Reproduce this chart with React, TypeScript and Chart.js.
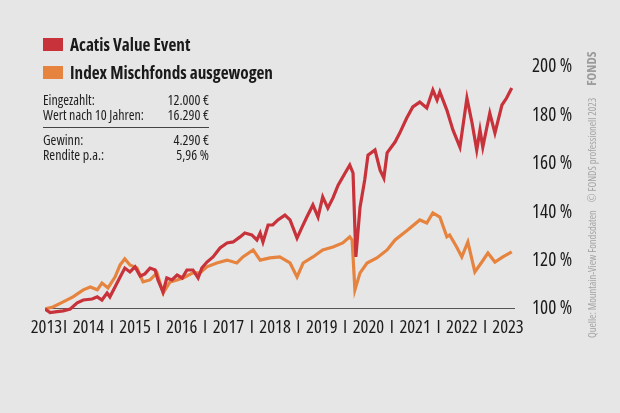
import React, { useEffect, useRef } from "react";
import { Chart, registerables } from "chart.js";

Chart.register(...registerables);

// Decimal-year positions and values (% of initial investment)
const acatisX = [
  2013.57, 2013.68, 2013.83, 2013.96, 2014.11, 2014.26, 2014.39, 2014.58, 2014.69, 2014.79,
  2014.9, 2014.96, 2015.07, 2015.18, 2015.28, 2015.39, 2015.5, 2015.61, 2015.71, 2015.82,
  2015.93, 2015.99, 2016.1, 2016.18, 2016.29, 2016.4, 2016.51, 2016.61, 2016.74, 2016.85,
  2016.93, 2017.04, 2017.17, 2017.32, 2017.47, 2017.6, 2017.75, 2017.85, 2018.0, 2018.11,
  2018.18, 2018.24, 2018.35, 2018.45, 2018.56, 2018.71, 2018.82, 2018.97, 2019.07, 2019.18,
  2019.31, 2019.42, 2019.52, 2019.63, 2019.74, 2019.85, 2020.0, 2020.1, 2020.17, 2020.23,
  2020.32, 2020.42, 2020.49, 2020.64, 2020.75, 2020.83, 2020.9, 2021.07, 2021.17, 2021.32,
  2021.45, 2021.6, 2021.75, 2021.88, 2021.97, 2022.03, 2022.18, 2022.31, 2022.46, 2022.61,
  2022.72, 2022.82, 2022.89, 2022.95, 2023.1, 2023.21, 2023.36, 2023.46, 2023.57,
];
const acatisValues = [
  100.0, 98.5, 98.9, 99.2, 100.0, 102.5, 103.7, 104.1, 105.0, 103.7,
  106.6, 105.0, 109.1, 113.2, 116.9, 115.3, 117.4, 113.6, 114.5, 116.9,
  116.1, 112.0, 107.0, 112.8, 112.0, 114.0, 112.8, 116.1, 116.1, 112.8,
  116.9, 119.4, 121.5, 125.2, 127.3, 127.7, 129.8, 131.4, 130.6, 128.5,
  131.4, 127.7, 134.7, 134.7, 136.8, 138.8, 136.8, 129.3, 133.5, 138.0,
  143.0, 138.0, 146.3, 141.7, 145.9, 151.2, 156.2, 159.5, 156.2, 121.5,
  142.1, 153.3, 163.6, 165.7, 157.4, 154.1, 164.5, 169.0, 172.7, 178.9,
  183.5, 185.5, 183.1, 190.5, 186.4, 189.7, 182.2, 174.0, 166.9, 187.2,
  176.9, 165.7, 174.0, 166.9, 181.0, 172.7, 184.3, 187.2, 191.3,
];

const indexX = [
  2013.57, 2013.74, 2013.96, 2014.17, 2014.39, 2014.54, 2014.69, 2014.79, 2014.92, 2015.07,
  2015.18, 2015.28, 2015.39, 2015.54, 2015.67, 2015.82, 2015.97, 2016.1, 2016.25, 2016.4,
  2016.53, 2016.74, 2016.89, 2017.04, 2017.25, 2017.47, 2017.68, 2017.81, 2018.03, 2018.18,
  2018.39, 2018.6, 2018.82, 2018.97, 2019.1, 2019.31, 2019.52, 2019.74, 2019.95, 2020.1,
  2020.15, 2020.21, 2020.32, 2020.47, 2020.68, 2020.9, 2021.07, 2021.34, 2021.6, 2021.75,
  2021.88, 2022.03, 2022.18, 2022.24, 2022.39, 2022.5, 2022.63, 2022.78, 2022.93, 2023.06,
  2023.21, 2023.38, 2023.57,
];
const indexValues = [
  100.0, 100.8, 102.9, 105.0, 107.9, 109.1, 107.9, 110.7, 108.7, 113.2,
  118.2, 120.7, 118.2, 116.9, 111.2, 112.0, 114.9, 106.6, 111.2, 112.0,
  112.8, 114.9, 114.9, 117.4, 119.0, 120.2, 119.0, 121.5, 124.4, 120.2,
  121.1, 121.5, 119.0, 113.2, 119.0, 121.5, 124.4, 125.6, 127.3, 129.8,
  128.5, 107.9, 114.9, 119.0, 121.1, 124.4, 128.5, 132.6, 136.8, 135.5,
  139.7, 138.0, 129.8, 130.6, 125.6, 121.5, 127.7, 115.3, 119.4, 123.1,
  119.4, 121.5, 123.6,
];

const seriesNames = ["Acatis Value Event", "Index Mischfonds ausgewogen"];

// x-axis labels: year labels and separators
const yearLabels = ["2013", "2014", "2015", "2016", "2017", "2018", "2019", "2020", "2021", "2022", "2023"];
const yearLabelPos = [2013.6, 2014.5, 2015.5, 2016.5, 2017.5, 2018.5, 2019.5, 2020.5, 2021.5, 2022.5, 2023.49];
const separatorPos = [2014, 2015, 2016, 2017, 2018, 2019, 2020, 2021, 2022, 2023];

const yTicks = [100, 120, 140, 160, 180, 200];

const tableRows = [
  ["Eingezahlt:", "12.000 €"],
  ["Wert nach 10 Jahren:", "16.290 €"],
  ["Gewinn:", "4.290 €"],
  ["Rendite p.a.:", "5,96 %"],
];

const RED = "#c8323a";
const ORANGE = "#e6843f";
const FONT = '"Open Sans", "DejaVu Sans Condensed", sans-serif';

export default function App() {
  const ref = useRef<HTMLCanvasElement | null>(null);

  useEffect(() => {
    if (!ref.current) return;
    const chart = new Chart(ref.current, {
      type: "line",
      data: {
        datasets: [
          {
            label: seriesNames[0],
            data: acatisX.map((x, i) => ({ x, y: acatisValues[i] })),
            borderColor: RED,
            borderWidth: 3.2,
            pointRadius: 0,
            tension: 0,
            fill: false,
          },
          {
            label: seriesNames[1],
            data: indexX.map((x, i) => ({ x, y: indexValues[i] })),
            borderColor: ORANGE,
            borderWidth: 3.2,
            pointRadius: 0,
            tension: 0,
            fill: false,
          },
        ],
      },
      options: {
        animation: false,
        responsive: false,
        maintainAspectRatio: false,
        layout: { padding: { left: 45, right: 45, top: 61, bottom: 68 } },
        plugins: { legend: { display: false }, tooltip: { enabled: false } },
        scales: {
          x: {
            type: "linear",
            min: 2013.57,
            max: 2023.64,
            grid: { display: false, drawTicks: false },
            border: { display: false },
            afterBuildTicks: (scale: any) => {
              const t = [...yearLabelPos, ...separatorPos].sort((a, b) => a - b);
              scale.ticks = t.map((v) => ({ value: v }));
            },
            afterFit: (scale: any) => {
              scale.height = 30;
            },
            ticks: {
              autoSkip: false,
              maxRotation: 0,
              minRotation: 0,
              padding: 2,
              color: "#1a1a1a",
              font: { family: FONT, size: 18.5, weight: "condensed" as any },
              callback: (value: any) => {
                const v = Number(value);
                const li = yearLabelPos.findIndex((p) => Math.abs(p - v) < 1e-6);
                if (li >= 0) return yearLabels[li];
                return "I";
              },
            },
          },
          y: {
            position: "right",
            min: 97.5,
            max: 202.5,
            grid: {
              drawTicks: false,
              color: (ctx: any) => (ctx.tick && ctx.tick.value === 100 ? "#555555" : "rgba(0,0,0,0)"),
              lineWidth: 1,
            },
            border: { display: false },
            afterBuildTicks: (scale: any) => {
              scale.ticks = yTicks.map((v) => ({ value: v }));
            },
            afterFit: (scale: any) => {
              scale.width = 60;
            },
            ticks: {
              padding: 17,
              color: "#1a1a1a",
              font: { family: FONT, size: 19, weight: "condensed" as any },
              callback: (value: any) => `${value} %`,
            },
          },
        },
      },
    });
    return () => chart.destroy();
  }, []);

  const rowTops = [92, 107, 131.5, 146.5];

  return (
    <div
      style={{
        position: "fixed",
        left: 0,
        top: 0,
        width: 620,
        height: 413,
        background: "#e6e6e6",
        overflow: "hidden",
        fontFamily: FONT,
        fontStretch: "75%",
      }}
    >
      <canvas ref={ref} width={620} height={413} style={{ position: "absolute", left: 0, top: 0, width: 620, height: 413 }} />
      {/* legend */}
      {seriesNames.map((name, i) => (
        <div key={name} style={{ position: "absolute", left: 43, top: 34 + i * 28, height: 21, display: "flex", alignItems: "center" }}>
          <div style={{ width: 20, height: 13, background: i === 0 ? RED : ORANGE, marginRight: 7 }} />
          <div style={{ fontSize: 17.2, fontWeight: "bold", color: "#1a1a1a", lineHeight: "21px", whiteSpace: "nowrap", fontStretch: "75%" }}>{name}</div>
        </div>
      ))}
      {/* info table */}
      {tableRows.map((r, i) => (
        <div
          key={r[0]}
          style={{
            position: "absolute",
            left: 43,
            top: rowTops[i],
            width: 166,
            height: 16,
            lineHeight: "16px",
            fontSize: 14,
            color: "#1e1e1e",
            display: "flex",
            justifyContent: "space-between",
            whiteSpace: "nowrap",
            fontStretch: "75%",
          }}
        >
          <span>{r[0]}</span>
          <span>{r[1]}</span>
        </div>
      ))}
      <div style={{ position: "absolute", left: 43, top: 126.5, width: 166, height: 1, background: "#444" }} />
      {/* vertical source note */}
      <div
        style={{
          position: "absolute",
          left: 585,
          top: 338,
          height: 13,
          lineHeight: "13px",
          transformOrigin: "left top",
          transform: "rotate(-90deg)",
          whiteSpace: "nowrap",
          fontSize: 10.5,
          color: "#a3a3a3",
          fontStretch: "75%",
        }}
      >
        <span>Quelle: Mountain-View Fondsdaten</span>
        <span style={{ marginLeft: 8 }}>© FONDS professionell 2023</span>
        <span style={{ marginLeft: 12, fontWeight: "bold", fontSize: 13, color: "#9a9a9a" }}>FONDS</span>
      </div>
    </div>
  );
}
